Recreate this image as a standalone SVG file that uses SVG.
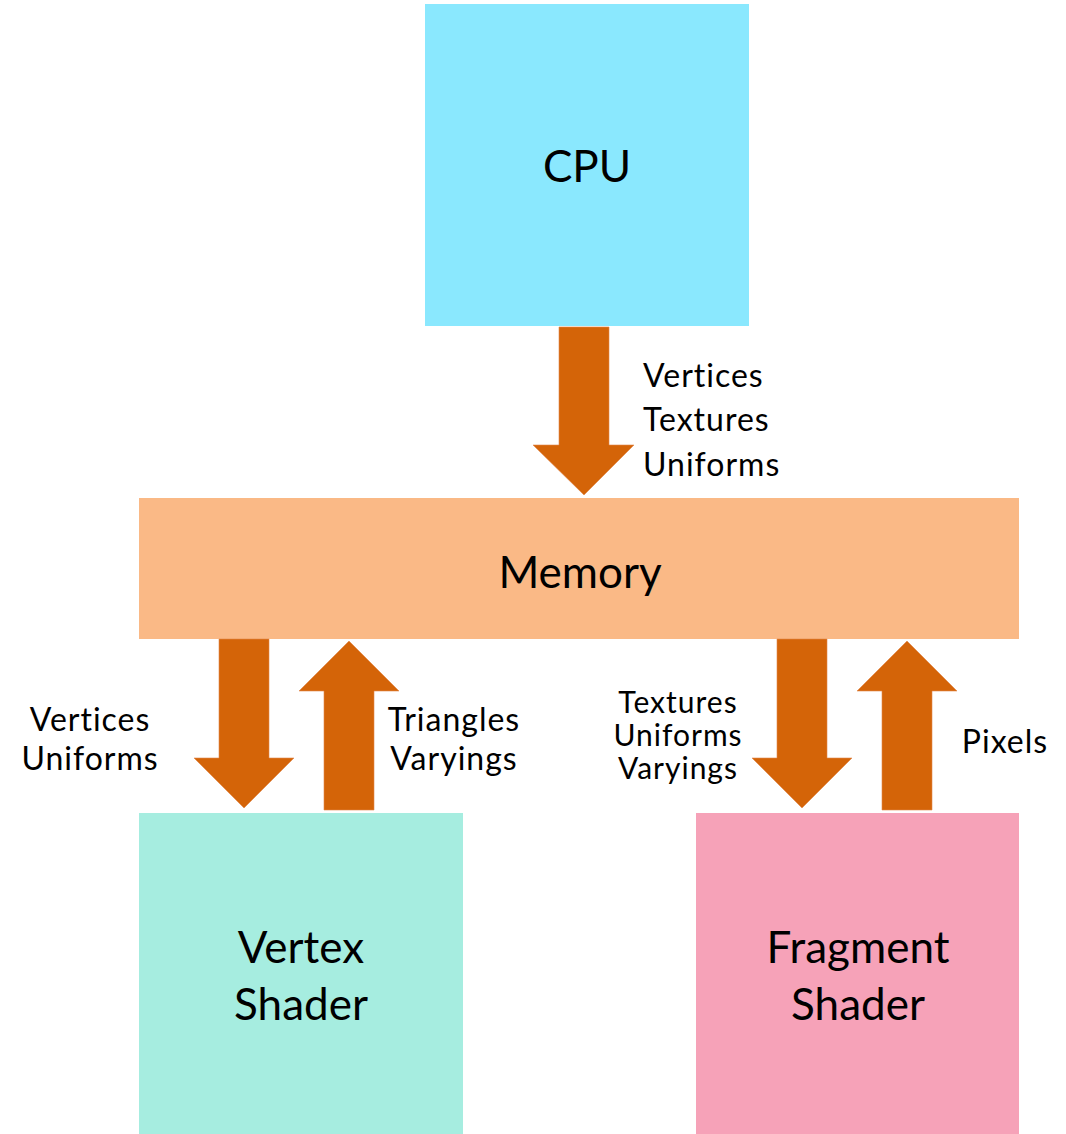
<svg xmlns="http://www.w3.org/2000/svg" width="1066" height="1134" viewBox="0 0 1066 1134">
<style>
.big{font-family:Lato,"Open Sans","Liberation Sans",sans-serif;font-size:44px;fill:#000;text-anchor:middle}
.lbl{font-family:Lato,"Open Sans","Liberation Sans",sans-serif;font-size:32px;letter-spacing:1px;fill:#000}
.sm{font-family:Lato,"Open Sans","Liberation Sans",sans-serif;font-size:30px;letter-spacing:1px;fill:#000;text-anchor:middle}
.arrow{fill:#D46408;stroke:#E0864A;stroke-width:0.6}
</style>
<rect width="1066" height="1134" fill="#fff"/>
<g id="cpu">
<rect x="425" y="4" width="324" height="322" fill="#8AE8FE"/>
<text class="big" x="587" y="182">CPU</text>
</g>
<g id="memory">
<rect x="139" y="498" width="880" height="141" fill="#FAB986"/>
<text class="big" x="580" y="588">Memory</text>
</g>
<g id="vertex-shader">
<rect x="139" y="813" width="324" height="321" fill="#A6EDE0"/>
<text class="big" x="301" y="963">Vertex</text>
<text class="big" x="301" y="1020">Shader</text>
</g>
<g id="fragment-shader">
<rect x="696" y="813" width="323" height="321" fill="#F6A2B8"/>
<text class="big" x="858" y="963">Fragment</text>
<text class="big" x="858" y="1020">Shader</text>
</g>
<g id="connectors">
<polygon class="arrow" points="559,327 609,327 609,445 634,445 584,495 533,445 559,445"/>
<polygon class="arrow" points="219,639 269,639 269,758 294,758 244,808 194,758 219,758"/>
<polygon class="arrow" points="349,641 399,691 374,691 374,810 324,810 324,691 299,691"/>
<polygon class="arrow" points="777,639 827,639 827,758 852,758 802,808 752,758 777,758"/>
<polygon class="arrow" points="907,641 957,691 932,691 932,810 882,810 882,691 857,691"/>
<text class="lbl" x="643" y="387">Vertices</text>
<text class="lbl" x="643" y="431">Textures</text>
<text class="lbl" x="643" y="476">Uniforms</text>
<text class="lbl" x="90" y="731" text-anchor="middle">Vertices</text>
<text class="lbl" x="90" y="770" text-anchor="middle">Uniforms</text>
<text class="lbl" x="454" y="731" text-anchor="middle">Triangles</text>
<text class="lbl" x="454" y="770" text-anchor="middle">Varyings</text>
<text class="sm" x="678" y="713">Textures</text>
<text class="sm" x="678" y="746">Uniforms</text>
<text class="sm" x="678" y="779">Varyings</text>
<text class="lbl" x="1005" y="753" text-anchor="middle">Pixels</text>
</g>
</svg>
